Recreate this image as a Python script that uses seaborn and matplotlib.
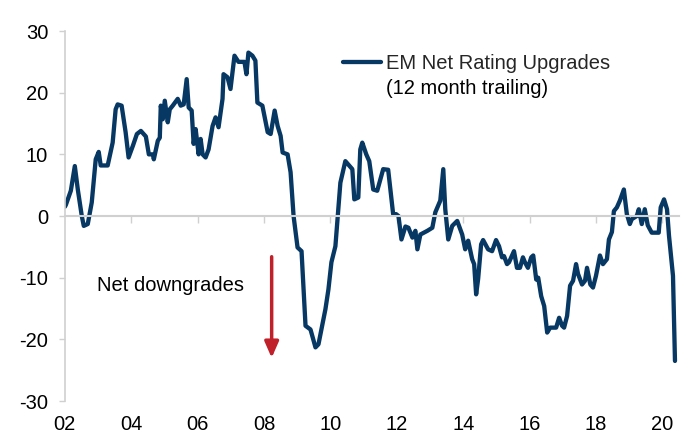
import pandas as pd
import matplotlib.pyplot as plt
import seaborn as sns

sns.set_theme(style="white")
plt.rcParams["font.family"] = ["Liberation Sans", "DejaVu Sans"]
plt.rcParams["axes.unicode_minus"] = False

# Values (decimal year, net upgrades)
years = [
    2002.00, 2002.03, 2002.18, 2002.30, 2002.39, 2002.51, 2002.57, 2002.69, 2002.81, 2002.93,
    2003.02, 2003.08, 2003.29, 2003.44, 2003.53, 2003.59, 2003.71, 2003.83, 2003.92, 2004.05,
    2004.17, 2004.29, 2004.44, 2004.53, 2004.65, 2004.68, 2004.80, 2004.86, 2004.89, 2004.95,
    2005.01, 2005.10, 2005.16, 2005.25, 2005.40, 2005.49, 2005.58, 2005.67, 2005.73, 2005.82,
    2005.88, 2005.94, 2006.03, 2006.09, 2006.15, 2006.24, 2006.33, 2006.45, 2006.54, 2006.63,
    2006.75, 2006.78, 2006.90, 2006.99, 2007.11, 2007.23, 2007.41, 2007.47, 2007.53, 2007.65,
    2007.74, 2007.80, 2007.95, 2008.11, 2008.20, 2008.32, 2008.41, 2008.50, 2008.56, 2008.71,
    2008.80, 2008.89, 2009.01, 2009.13, 2009.25, 2009.40, 2009.55, 2009.64, 2009.85, 2009.94,
    2010.03, 2010.15, 2010.30, 2010.45, 2010.66, 2010.72, 2010.84, 2010.90, 2010.96, 2011.08,
    2011.17, 2011.29, 2011.41, 2011.59, 2011.74, 2011.89, 2011.98, 2012.05, 2012.14, 2012.26,
    2012.35, 2012.47, 2012.56, 2012.62, 2012.71, 2012.92, 2013.07, 2013.16, 2013.31, 2013.40,
    2013.46, 2013.55, 2013.67, 2013.82, 2013.97, 2014.06, 2014.15, 2014.27, 2014.33, 2014.39,
    2014.45, 2014.54, 2014.60, 2014.75, 2014.87, 2014.99, 2015.08, 2015.17, 2015.23, 2015.32,
    2015.38, 2015.53, 2015.62, 2015.71, 2015.80, 2015.86, 2015.95, 2016.05, 2016.11, 2016.20,
    2016.26, 2016.35, 2016.44, 2016.53, 2016.62, 2016.80, 2016.89, 2016.98, 2017.04, 2017.13,
    2017.22, 2017.31, 2017.40, 2017.46, 2017.58, 2017.67, 2017.73, 2017.83, 2017.91, 2018.00,
    2018.12, 2018.21, 2018.33, 2018.39, 2018.48, 2018.54, 2018.63, 2018.72, 2018.84, 2018.93,
    2019.02, 2019.08, 2019.23, 2019.29, 2019.38, 2019.47, 2019.56, 2019.68, 2019.89, 2019.95,
    2020.05, 2020.14, 2020.20, 2020.32, 2020.38,
]
net_upgrades = [
    1.5, 1.8, 4.1, 8.1, 4.3, 0.0, -1.6, -1.3, 2.2, 9.2,
    10.4, 8.2, 8.2, 11.9, 17.3, 18.1, 17.9, 13.6, 9.5, 11.4,
    13.3, 13.8, 12.9, 10.0, 10.0, 9.2, 12.2, 12.7, 17.9, 15.7,
    18.7, 15.2, 17.3, 17.9, 19.0, 17.9, 18.1, 22.2, 17.6, 17.1,
    11.7, 14.1, 10.0, 12.5, 10.0, 9.5, 10.8, 14.6, 16.0, 14.4,
    19.0, 23.0, 22.5, 20.6, 26.0, 25.0, 25.0, 23.0, 26.5, 26.0,
    25.2, 18.4, 17.9, 13.6, 13.3, 17.1, 14.6, 13.0, 10.3, 10.0,
    7.1, 0.0, -5.1, -5.7, -17.8, -18.4, -21.3, -20.8, -15.1, -11.9,
    -7.5, -4.9, 5.4, 8.9, 7.6, 2.7, 3.0, 10.8, 11.9, 10.0,
    8.9, 4.3, 4.1, 7.6, 7.5, 0.3, 0.3, 0.0, -3.8, -1.7,
    -1.9, -3.5, -2.4, -5.4, -3.0, -2.4, -1.9, 0.6, 2.5, 7.6,
    1.1, -3.8, -1.6, -0.8, -3.0, -5.4, -4.0, -7.0, -7.8, -12.7,
    -10.2, -4.6, -3.9, -5.4, -5.7, -3.9, -4.9, -6.7, -6.5, -7.8,
    -7.5, -5.7, -8.4, -8.4, -6.7, -7.5, -8.4, -6.7, -6.4, -10.3,
    -10.0, -13.0, -14.6, -18.9, -18.1, -18.1, -16.5, -17.8, -18.1, -16.2,
    -11.3, -10.5, -7.8, -9.4, -11.1, -10.5, -8.4, -11.1, -11.6, -9.7,
    -6.4, -7.8, -7.0, -3.8, -2.6, 0.8, 1.4, 2.5, 4.3, 0.3,
    -1.3, -0.5, 0.0, 1.1, -1.3, 1.1, -1.5, -2.7, -2.7, 1.4,
    2.7, 1.1, -3.2, -9.7, -23.5,
]
tick_years = list(range(2002, 2021, 2))
tick_labels = [f"{y % 100:02d}" for y in tick_years]
y_ticks = [-30, -20, -10, 0, 10, 20, 30]

df = pd.DataFrame({"year": years, "value": net_upgrades})

navy = "#073763"
grey = "#d0d0d0"

fig = plt.figure(figsize=(6.9, 4.34), dpi=100)
ax = fig.add_axes([0.094, 0.076, 0.89, 0.8525])

sns.lineplot(data=df, x="year", y="value", ax=ax, color=navy, linewidth=3.1,
             label="EM Net Rating Upgrades")

ax.set_xlim(2002, 2020.5)
ax.set_ylim(-30, 30)
ax.set_xlabel("")
ax.set_ylabel("")

# y axis
ax.set_yticks(y_ticks)
ax.tick_params(axis="y", which="both", left=True, length=4, width=1, color=grey,
               pad=8, labelsize=14.5, labelcolor="black")
ax.spines["left"].set_color(grey)
ax.spines["left"].set_linewidth(1.2)
for s in ["top", "right"]:
    ax.spines[s].set_visible(False)

# x axis drawn along zero, labels kept at the bottom
ax.spines["bottom"].set_position(("data", 0))
ax.spines["bottom"].set_color(grey)
ax.spines["bottom"].set_linewidth(1.5)
ax.set_xticks(tick_years[1:])
ax.tick_params(axis="x", bottom=True, length=5, width=1, color=grey, labelbottom=False)

sec = ax.secondary_xaxis(0)
sec.set_xticks(tick_years)
sec.set_xticklabels(tick_labels)
sec.spines["bottom"].set_visible(False)
sec.tick_params(axis="x", length=0, pad=10, labelsize=14.5, labelcolor="black")

# legend (no frame), second line as text under it
leg = ax.legend(loc="upper left", bbox_to_anchor=(0.44, 0.96), frameon=False,
                fontsize=14.5, handlelength=1.9, handletextpad=0.25, borderaxespad=0)
ax.text(0.523, 0.846, "(12 month trailing)", transform=ax.transAxes,
        fontsize=14.5, va="center", ha="left", color="black")

# annotation
ax.text(2002.96, -11.2, "Net downgrades", fontsize=14.5, va="center", ha="left", color="black")
ax.annotate("", xy=(2008.23, -23.0), xytext=(2008.23, -6.6),
            arrowprops=dict(arrowstyle="-|>,head_width=0.35,head_length=0.8",
                            color="#c0202a", lw=2.5, shrinkA=0, shrinkB=0))

plt.savefig("out.png", dpi=100)
